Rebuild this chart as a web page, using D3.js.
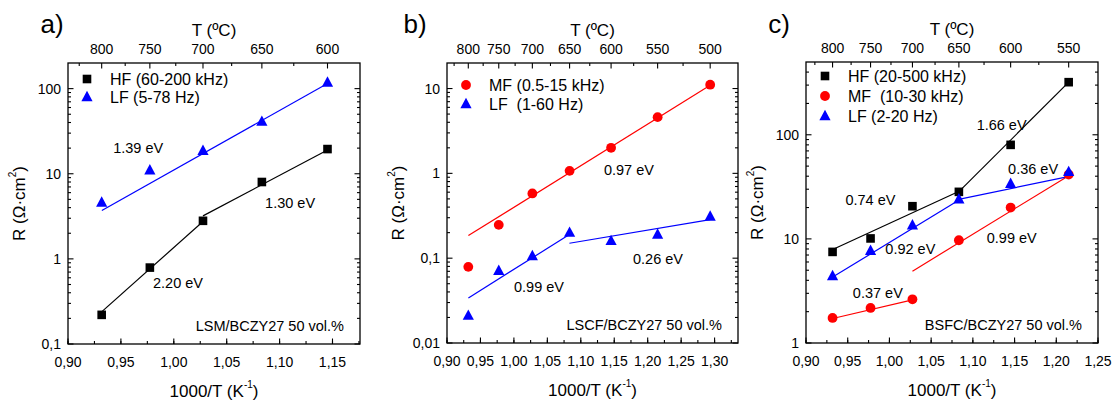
<!DOCTYPE html>
<html><head><meta charset="utf-8">
<script src="https://cdn.jsdelivr.net/npm/d3@7"></script>
<style>
body{margin:0;background:#fff}
svg{display:block}
text{font-family:"Liberation Sans",Arial,sans-serif;fill:#000}
</style>
</head><body>
<svg id="chart" width="1116" height="401"></svg>
<script>
// ---------------- DATA ----------------
// Panel a) LSM/BCZY27
const tempsA = [800, 750, 700, 650, 600];
const rA_HF = [0.22, 0.79, 2.8, 8.0, 19.5];
const rA_LF = [4.6, 11.0, 18.6, 41, 118];
const fitA_HF1 = [[0.932, 0.24], [1.0276, 2.75]];
const fitA_HF2 = [[1.0276, 3.2], [1.1453, 19]];
const fitA_LF = [[0.932, 3.7], [1.1453, 115]];
const xTicksA = [0.90, 0.95, 1.00, 1.05, 1.10, 1.15];
const yTicksA = [0.1, 1, 10, 100];
const topTicksA = [800, 750, 700, 650, 600];
const labelsA = [
  {t: "1.39 eV", x: 0.9663, y: 20.2},
  {t: "1.30 eV", x: 1.1099, y: 4.55},
  {t: "2.20 eV", x: 1.004, y: 0.526}
];
const legendA = ["HF (60-200 kHz)", "LF (5-78 Hz)"];

// Panel b) LSCF/BCZY27
const tempsB = [800, 750, 700, 650, 600, 550, 500];
const rB_MF = [0.079, 0.247, 0.58, 1.07, 2.0, 4.6, 11.1];
const rB_LF = [0.021, 0.071, 0.106, 0.20, 0.16, 0.19, 0.31];
const fitB_MF = [[0.932, 0.185], [1.2934, 10.9]];
const fitB_LF1 = [[0.932, 0.034], [1.083, 0.19]];
const fitB_LF2 = [[1.083, 0.15], [1.2934, 0.285]];
const xTicksB = [0.90, 0.95, 1.00, 1.05, 1.10, 1.15, 1.20, 1.25, 1.30];
const yTicksB = [0.01, 0.1, 1, 10];
const topTicksB = [800, 750, 700, 650, 600, 550, 500];
const labelsB = [
  {t: "0.97 eV", x: 1.172, y: 1.09},
  {t: "0.99 eV", x: 1.0375, y: 0.0459},
  {t: "0.26 eV", x: 1.2154, y: 0.098}
];
const legendB = ["MF (0.5-15 kHz)", "LF  (1-60 Hz)"];

// Panel c) BSFC/BCZY27
const tempsC = [800, 750, 700, 650, 600, 550];
const rC_HF = [7.5, 10.1, 20.6, 28.3, 80, 320];
const rC_MF = [1.74, 2.17, 2.63, 9.7, 20, 41.5];
const rC_LF = [4.4, 7.7, 13.5, 24, 33.8, 44];
const fitC_HF1 = [[0.932, 7.9], [1.083, 28.5]];
const fitC_HF2 = [[1.083, 28.3], [1.2149, 320]];
const fitC_MF1 = [[0.932, 1.72], [1.0276, 2.6]];
const fitC_MF2 = [[1.0276, 4.9], [1.2149, 40.5]];
const fitC_LF1 = [[0.932, 4.3], [1.083, 23.5]];
const fitC_LF2 = [[1.083, 24], [1.22, 40.5]];
const xTicksC = [0.90, 0.95, 1.00, 1.05, 1.10, 1.15, 1.20, 1.25];
const yTicksC = [1, 10, 100];
const topTicksC = [800, 750, 700, 650, 600, 550];
const labelsC = [
  {t: "1.66 eV", x: 1.1345, y: 123},
  {t: "0.36 eV", x: 1.1722, y: 46.4},
  {t: "0.74 eV", x: 0.9772, y: 23.4},
  {t: "0.92 eV", x: 1.0251, y: 7.92},
  {t: "0.99 eV", x: 1.1466, y: 10.1},
  {t: "0.37 eV", x: 0.9861, y: 3.02}
];
const legendC = ["HF (20-500 kHz)", "MF  (10-30 kHz)", "LF (2-20 Hz)"];

const toX = T => 1000 / (T + 273.15);

// ---------------- DRAWING ----------------
const svg = d3.select("#chart");
const COL = {black: "#000000", red: "#ff0000", blue: "#0000ff"};

function symbolPath(g, type, cx, cy, color) {
  if (type === "square") {
    g.append("rect").attr("x", cx - 4.3).attr("y", cy - 4.3).attr("width", 8.6).attr("height", 8.6).attr("fill", color);
  } else if (type === "circle") {
    g.append("circle").attr("cx", cx).attr("cy", cy).attr("r", 4.9).attr("fill", color);
  } else {
    g.append("path").attr("d", `M${cx},${cy - 6.2}L${cx + 5.6},${cy + 4.2}L${cx - 5.6},${cy + 4.2}Z`).attr("fill", color);
  }
}

function fmt(v, dec) {
  return v.toFixed(dec).replace(".", ",");
}

function panel(cfg) {
  const g = svg.append("g");
  const x = d3.scaleLinear().domain(cfg.xDomain).range([cfg.left, cfg.right]);
  const y = d3.scaleLog().domain(cfg.yDomain).range([cfg.bottom, cfg.top]);
  const L = cfg.left, R = cfg.right, T = cfg.top, B = cfg.bottom;
  const tick = (x1, y1, x2, y2) => g.append("line").attr("x1", x1).attr("y1", y1).attr("x2", x2).attr("y2", y2).attr("stroke", "#000").attr("stroke-width", 1.1);

  // bottom axis ticks
  const minorX = d3.range(cfg.xDomain[0], cfg.xDomain[1] + 1e-9, 0.025);
  minorX.forEach(v => { tick(x(v), B, x(v), B - 3); tick(x(v), T, x(v), T + 0); });
  cfg.xTicks.forEach(v => {
    tick(x(v), B, x(v), B - 5.5);
    g.append("text").attr("x", x(v)).attr("y", B + 18).attr("text-anchor", "middle")
      .attr("dominant-baseline", "central").attr("font-size", 14).text(fmt(v, 2));
  });

  // y axis ticks (log)
  const [y0, y1] = cfg.yDomain;
  for (let d = Math.floor(Math.log10(y0)); d <= Math.ceil(Math.log10(y1)); d++) {
    for (let m = 2; m <= 9; m++) {
      const v = m * Math.pow(10, d);
      if (v > y0 && v < y1) { tick(L, y(v), L + 3, y(v)); tick(R, y(v), R - 3, y(v)); }
    }
  }
  cfg.yTicks.forEach(v => {
    tick(L, y(v), L + 5.5, y(v)); tick(R, y(v), R - 5.5, y(v));
    const dec = v < 1 ? Math.round(-Math.log10(v)) : 0;
    g.append("text").attr("x", L - 7).attr("y", y(v)).attr("text-anchor", "end")
      .attr("dominant-baseline", "central").attr("font-size", 14).text(fmt(v, dec));
  });

  // top axis (temperature)
  d3.range(450, 876, 25).forEach(t => {
    const v = toX(t);
    if (v > cfg.xDomain[0] && v < cfg.xDomain[1] && !cfg.topTicks.includes(t)) tick(x(v), T, x(v), T + 3);
  });
  cfg.topTicks.forEach(t => {
    tick(x(toX(t)), T, x(toX(t)), T + 5.5);
    g.append("text").attr("x", x(toX(t))).attr("y", T - 14).attr("text-anchor", "middle")
      .attr("dominant-baseline", "central").attr("font-size", 14).text(t);
  });

  // frame
  g.append("rect").attr("x", L).attr("y", T).attr("width", R - L).attr("height", B - T)
    .attr("fill", "none").attr("stroke", "#000").attr("stroke-width", 1.3);

  // axis titles
  g.append("text").attr("x", (L + R) / 2).attr("y", T - 33).attr("text-anchor", "middle")
    .attr("dominant-baseline", "central").attr("font-size", 17).text("T (ºC)");
  const xt = g.append("text").attr("x", (L + R) / 2).attr("y", B + 47).attr("text-anchor", "middle")
    .attr("dominant-baseline", "central").attr("font-size", 17);
  xt.append("tspan").text("1000/T (K");
  xt.append("tspan").attr("font-size", 10).attr("dy", -7).text("-1");
  xt.append("tspan").attr("dy", 7).text(")");
  const yt = g.append("text").attr("transform", `translate(${L - 49},${(T + B) / 2}) rotate(-90)`)
    .attr("text-anchor", "middle").attr("dominant-baseline", "central").attr("font-size", 17);
  yt.append("tspan").text("R (Ω·cm");
  yt.append("tspan").attr("font-size", 10).attr("dy", -7).text("2");
  yt.append("tspan").attr("dy", 7).text(")");

  // panel letter
  g.append("text").attr("x", cfg.letterX).attr("y", 24).attr("text-anchor", "middle")
    .attr("dominant-baseline", "central").attr("font-family", "Lato, 'Open Sans', sans-serif")
    .attr("font-size", 26).text(cfg.letter);

  // fit lines
  const line = d3.line().x(d => x(d[0])).y(d => y(d[1]));
  cfg.fits.forEach(f => {
    g.append("path").attr("d", line(f.pts)).attr("fill", "none").attr("stroke", f.color).attr("stroke-width", 1.2);
  });

  // series markers
  cfg.series.forEach(s => {
    s.values.forEach((v, i) => symbolPath(g, s.sym, x(toX(cfg.temps[i])), y(v), s.color));
  });

  // annotations
  cfg.labels.forEach(l => {
    g.append("text").attr("x", x(l.x)).attr("y", y(l.y)).attr("text-anchor", "middle")
      .attr("dominant-baseline", "central").attr("font-size", 14.5).text(l.t);
  });
  g.append("text").attr("x", R - 16).attr("y", B - 18).attr("text-anchor", "end")
    .attr("dominant-baseline", "central").attr("font-size", 14.5).text(cfg.sample);

  // legend
  cfg.series.forEach((s, i) => {
    const ly = T + cfg.legendY0 + i * cfg.legendDy;
    symbolPath(g, s.sym, L + 19, ly, s.color);
    g.append("text").attr("x", L + 42).attr("y", ly).attr("dominant-baseline", "central")
      .attr("font-size", 16).style("white-space", "pre").attr("xml:space", "preserve").text(s.name);
  });
}

panel({
  left: 68, right: 360, top: 63, bottom: 344,
  xDomain: [0.90, 1.176], yDomain: [0.1, 200],
  xTicks: xTicksA, yTicks: yTicksA, topTicks: topTicksA, temps: tempsA,
  letter: "a)", letterX: 52,
  series: [
    {name: legendA[0], values: rA_HF, sym: "square", color: COL.black},
    {name: legendA[1], values: rA_LF, sym: "triangle", color: COL.blue}
  ],
  fits: [
    {pts: fitA_HF1, color: COL.black}, {pts: fitA_HF2, color: COL.black}, {pts: fitA_LF, color: COL.blue}
  ],
  labels: labelsA, sample: "LSM/BCZY27 50 vol.%",
  legendY0: 16, legendDy: 18
});

panel({
  left: 447, right: 738, top: 63, bottom: 343,
  xDomain: [0.90, 1.335], yDomain: [0.01, 20],
  xTicks: xTicksB, yTicks: yTicksB, topTicks: topTicksB, temps: tempsB,
  letter: "b)", letterX: 415,
  series: [
    {name: legendB[0], values: rB_MF, sym: "circle", color: COL.red},
    {name: legendB[1], values: rB_LF, sym: "triangle", color: COL.blue}
  ],
  fits: [
    {pts: fitB_MF, color: COL.red}, {pts: fitB_LF1, color: COL.blue}, {pts: fitB_LF2, color: COL.blue}
  ],
  labels: labelsB, sample: "LSCF/BCZY27 50 vol.%",
  legendY0: 22, legendDy: 19
});

panel({
  left: 806, right: 1098, top: 62, bottom: 343,
  xDomain: [0.90, 1.25], yDomain: [1, 500],
  xTicks: xTicksC, yTicks: yTicksC, topTicks: topTicksC, temps: tempsC,
  letter: "c)", letterX: 779,
  series: [
    {name: legendC[0], values: rC_HF, sym: "square", color: COL.black},
    {name: legendC[1], values: rC_MF, sym: "circle", color: COL.red},
    {name: legendC[2], values: rC_LF, sym: "triangle", color: COL.blue}
  ],
  fits: [
    {pts: fitC_HF1, color: COL.black}, {pts: fitC_HF2, color: COL.black},
    {pts: fitC_MF1, color: COL.red}, {pts: fitC_MF2, color: COL.red},
    {pts: fitC_LF1, color: COL.blue}, {pts: fitC_LF2, color: COL.blue}
  ],
  labels: labelsC, sample: "BSFC/BCZY27 50 vol.%",
  legendY0: 14, legendDy: 20
});
</script>
</body></html>
